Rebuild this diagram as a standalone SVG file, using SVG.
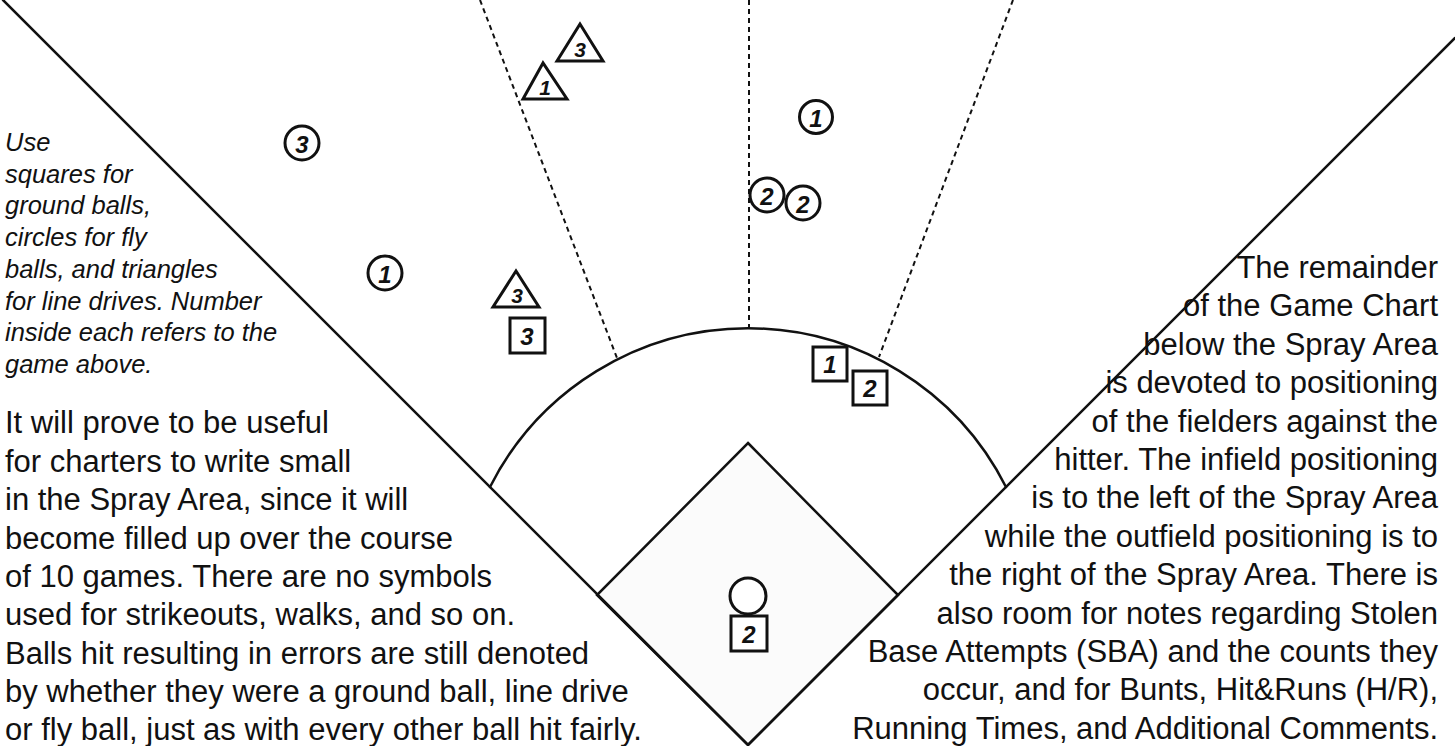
<svg xmlns="http://www.w3.org/2000/svg" width="1455" height="746" viewBox="0 0 1455 746">
<style>
.fl{fill:none;stroke:#111;stroke-width:2.5;stroke-linecap:round}
.ds{fill:none;stroke:#111;stroke-width:2;stroke-dasharray:5 4}
.sym{fill:#fff;stroke:#111;stroke-width:3;stroke-linejoin:miter}
.num{font-family:"Liberation Sans",Arial,sans-serif;font-style:italic;font-weight:bold;font-size:24px;fill:#111;text-anchor:middle;dominant-baseline:central}
.tn{font-size:21px}
.it{font-family:"Liberation Sans",Arial,sans-serif;font-style:italic;font-size:25.5px;fill:#111}
.bt{font-family:"Liberation Sans",Arial,sans-serif;font-size:31px;fill:#111}
.rt{font-family:"Liberation Sans",Arial,sans-serif;font-size:31px;fill:#111;text-anchor:end}
</style>
<rect width="1455" height="746" fill="#fff"/>
<g id="field">
<polygon id="infield" points="748,443 898,595 748,745 597,595" fill="#fbfbfb" stroke="#111" stroke-width="2.5"/>
<path class="fl" d="M3 0 L748 745 L1455 38"/>
<path class="fl" d="M490 487 A289 289 0 0 1 1006 487"/>
<path class="ds" d="M480 0 L617 358"/>
<path class="ds" d="M749 0 L749 328"/>
<path class="ds" d="M1013 0 L879 357"/>
</g>
<g id="symbols">
<g id="t3top"><polygon class="sym" points="580,24 557,61 603,61"/><text class="num tn" x="580" y="49">3</text></g>
<g id="t1top"><polygon class="sym" points="543,63 523,99 567,99"/><text class="num tn" x="545" y="87">1</text></g>
<g id="t3low"><polygon class="sym" points="516,271 493,307 539,307"/><text class="num tn" x="517" y="295">3</text></g>
<g id="s3"><rect class="sym" x="510" y="318" width="35" height="35"/><text class="num" x="527" y="336">3</text></g>
<g id="c3"><circle class="sym" cx="302" cy="143" r="17"/><text class="num" x="302" y="144">3</text></g>
<g id="c1left"><circle class="sym" cx="385" cy="273" r="17"/><text class="num" x="385" y="274">1</text></g>
<g id="c1right"><circle class="sym" cx="816" cy="117" r="16.5"/><text class="num" x="816" y="118">1</text></g>
<g id="c2a"><circle class="sym" cx="767" cy="195" r="17"/><text class="num" x="767" y="196">2</text></g>
<g id="c2b"><circle class="sym" cx="803" cy="203" r="17"/><text class="num" x="803" y="204">2</text></g>
<g id="s1"><rect class="sym" x="813" y="347" width="34" height="34"/><text class="num" x="830" y="364">1</text></g>
<g id="s2"><rect class="sym" x="853" y="371" width="34" height="34"/><text class="num" x="870" y="388">2</text></g>
<g id="homecircle"><circle class="sym" cx="748" cy="596" r="18"/></g>
<g id="s2home"><rect class="sym" x="731" y="616" width="36" height="35"/><text class="num" x="749" y="634">2</text></g>
</g>
<g id="note-italic">
<text class="it" x="5" y="151">Use</text>
<text class="it" x="5" y="183">squares for</text>
<text class="it" x="5" y="214">ground balls,</text>
<text class="it" x="5" y="246">circles for fly</text>
<text class="it" x="5" y="278">balls, and triangles</text>
<text class="it" x="5" y="310">for line drives. Number</text>
<text class="it" x="5" y="341">inside each refers to the</text>
<text class="it" x="5" y="373">game above.</text>
</g>
<g id="note-left">
<text class="bt" x="5" y="433">It will prove to be useful</text>
<text class="bt" x="5" y="472">for charters to write small</text>
<text class="bt" x="5" y="510">in the Spray Area, since it will</text>
<text class="bt" x="5" y="549">become filled up over the course</text>
<text class="bt" x="5" y="587">of 10 games. There are no symbols</text>
<text class="bt" x="5" y="625">used for strikeouts, walks, and so on.</text>
<text class="bt" x="5" y="664">Balls hit resulting in errors are still denoted</text>
<text class="bt" x="5" y="702">by whether they were a ground ball, line drive</text>
<text class="bt" x="5" y="740">or fly ball, just as with every other ball hit fairly.</text>
</g>
<g id="note-right">
<text class="rt" x="1438" y="278">The remainder</text>
<text class="rt" x="1438" y="316">of the Game Chart</text>
<text class="rt" x="1438" y="355">below the Spray Area</text>
<text class="rt" x="1438" y="393">is devoted to positioning</text>
<text class="rt" x="1438" y="432">of the fielders against the</text>
<text class="rt" x="1438" y="470">hitter. The infield positioning</text>
<text class="rt" x="1438" y="508">is to the left of the Spray Area</text>
<text class="rt" x="1438" y="547">while the outfield positioning is to</text>
<text class="rt" x="1438" y="585">the right of the Spray Area. There is</text>
<text class="rt" x="1438" y="624">also room for notes regarding Stolen</text>
<text class="rt" x="1438" y="662">Base Attempts (SBA) and the counts they</text>
<text class="rt" x="1438" y="700">occur, and for Bunts, Hit&amp;Runs (H/R),</text>
<text class="rt" x="1438" y="739">Running Times, and Additional Comments.</text>
</g>
</svg>
